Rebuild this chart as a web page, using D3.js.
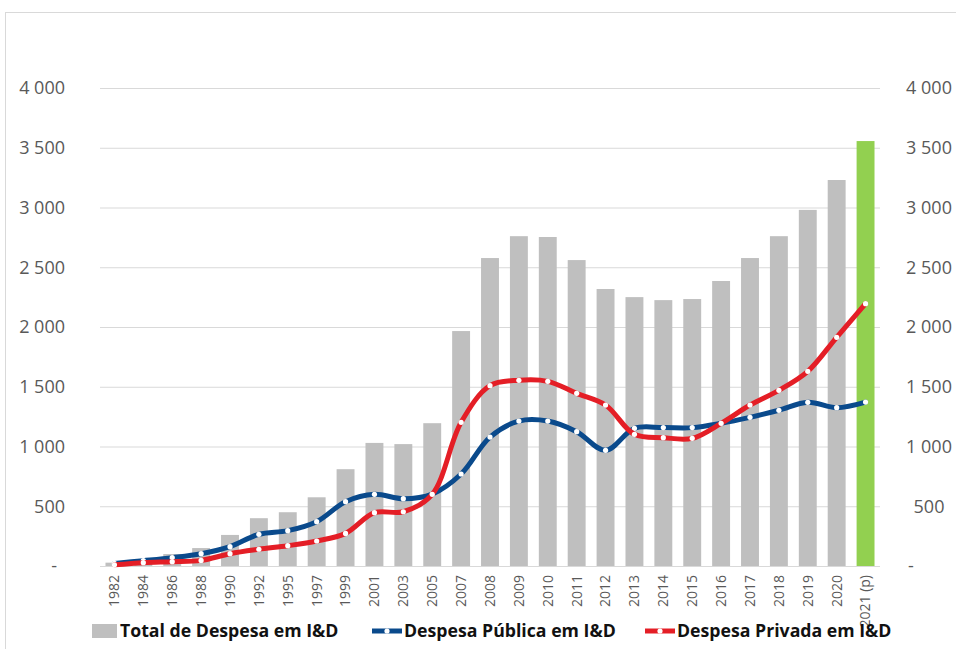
<!DOCTYPE html>
<html><head><meta charset="utf-8">
<script src="https://cdn.jsdelivr.net/npm/d3@7"></script>
<style>body{margin:0;background:#fff}svg{display:block}</style>
</head><body>
<script>
const years = ["1982","1984","1986","1988","1990","1992","1995","1997","1999","2001","2003","2005","2007","2008","2009","2010","2011","2012","2013","2014","2015","2016","2017","2018","2019","2020","2021 (p)"];
const totalRD = [28,55,100,150,260,400,450,575,810,1030,1020,1195,1966,2577,2760,2753,2560,2318,2250,2225,2234,2385,2577,2760,2980,3230,3556];
const publicRD = [22,45,70,103,162,265,296,371,538,600,563,602,770,1079,1213,1213,1124,968,1152,1158,1158,1194,1244,1303,1370,1325,1372];
const privateRD = [10,28,36,47,103,140,170,209,273,446,454,600,1202,1509,1554,1545,1445,1347,1102,1074,1068,1194,1347,1470,1629,1914,2195];
const yTicks = [0,500,1000,1500,2000,2500,3000,3500,4000];
const legendLabels = ["Total de Despesa em I&D","Despesa Pública em I&D","Despesa Privada em I&D"];

const W=956,H=649;
const svg=d3.select("body").append("svg").attr("width",W).attr("height",H);
svg.append("rect").attr("x",5.5).attr("y",12.5).attr("width",1000).attr("height",700)
  .attr("fill","#fff").attr("stroke","#D9D9D9");

const x=d3.scaleBand().domain(years).range([100,880]).paddingInner(0.38).paddingOuter(0.19);
const y=d3.scaleLinear().domain([0,4000]).range([566,88]);
const font="'Open Sans', 'Liberation Sans', sans-serif";
const fmt=v=>v===0?"-":d3.format(",")(v).replace(/,/g," ");

// gridlines
svg.append("g").selectAll("line").data(yTicks).join("line")
  .attr("x1",100).attr("x2",880).attr("y1",d=>y(d)+0.5).attr("y2",d=>y(d)+0.5)
  .attr("stroke","#D9D9D9").attr("stroke-width",1);

// left axis labels
svg.append("g").selectAll("text").data(yTicks).join("text")
  .attr("x",d=>d===0?57:65).attr("y",d=>y(d)).attr("dy","0.35em")
  .attr("text-anchor","end").attr("font-family",font).attr("font-size",18)
  .attr("fill","#595959").text(fmt);
// right axis labels
svg.append("g").selectAll("text").data(yTicks).join("text")
  .attr("x",d=>d===0?911:929).attr("y",d=>y(d)).attr("dy","0.35em")
  .attr("text-anchor","middle").attr("font-family",font).attr("font-size",18)
  .attr("fill","#595959").text(fmt);

// bars
svg.append("g").selectAll("rect").data(years).join("rect")
  .attr("x",d=>x(d)).attr("width",x.bandwidth())
  .attr("y",(d,i)=>y(totalRD[i])).attr("height",(d,i)=>y(0)-y(totalRD[i]))
  .attr("fill",(d,i)=>i===years.length-1?"#92D050":"#BFBFBF");

// x labels
svg.append("g").selectAll("text").data(years).join("text")
  .attr("transform",d=>`translate(${x(d)+x.bandwidth()/2},575) rotate(-90)`)
  .attr("dy","0.35em").attr("text-anchor","end").attr("font-family",font)
  .attr("font-size",14).attr("fill","#595959").text(d=>d);

// lines
const cx=d=>x(d)+x.bandwidth()/2;
function drawSeries(vals,color){
  const line=d3.line().x((d,i)=>cx(years[i])).y(d=>y(d)).curve(d3.curveCatmullRom.alpha(0.5));
  svg.append("path").datum(vals).attr("d",line).attr("fill","none")
    .attr("stroke",color).attr("stroke-width",5).attr("stroke-linecap","round");
  svg.append("g").selectAll("circle").data(vals).join("circle")
    .attr("cx",(d,i)=>cx(years[i])).attr("cy",d=>y(d)).attr("r",2.6).attr("fill","#fff");
}
drawSeries(publicRD,"#0A4A8C");
drawSeries(privateRD,"#E41E26");

// legend
const lg=svg.append("g").attr("font-family",font).attr("font-weight","bold").attr("font-size",17.7).attr("fill","#111");
lg.append("rect").attr("x",92).attr("y",624).attr("width",25).attr("height",14).attr("fill","#BFBFBF");
lg.append("text").attr("x",120).attr("y",631).attr("dy","0.35em").text(legendLabels[0]);
[[372,"#0A4A8C",legendLabels[1]],[645,"#E41E26",legendLabels[2]]].forEach(([lx,c,t])=>{
  lg.append("line").attr("x1",lx).attr("x2",lx+30).attr("y1",631).attr("y2",631).attr("stroke",c).attr("stroke-width",5);
  lg.append("circle").attr("cx",lx+15).attr("cy",631).attr("r",2.6).attr("fill","#fff");
  lg.append("text").attr("x",lx+32).attr("y",631).attr("dy","0.35em").text(t);
});
</script>
</body></html>
